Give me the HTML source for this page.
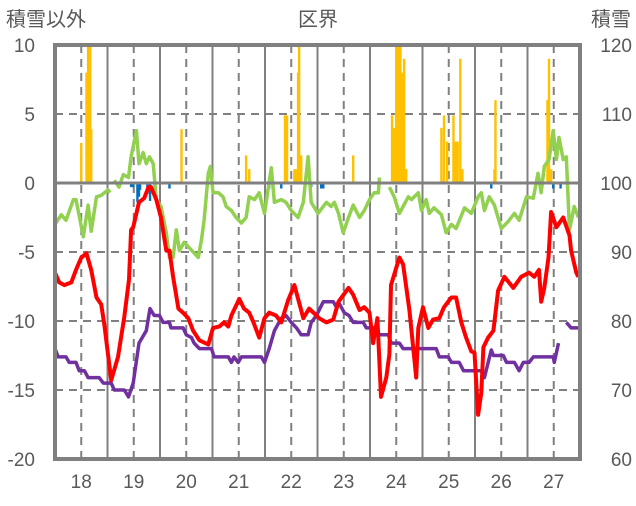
<!DOCTYPE html>
<html><head><meta charset="utf-8">
<style>
html,body{margin:0;padding:0;background:#fff;}
svg text{font-family:"Liberation Sans","Noto Sans CJK JP",sans-serif;fill:#595959;}
</style></head>
<body>
<svg id="chart" width="636" height="501" viewBox="0 0 636 501" xmlns="http://www.w3.org/2000/svg">
<g id="grid"></g>
<g id="bars"></g>
<g id="lines"></g>
<g id="axes"></g>
<text x="46" y="26" font-size="20" text-anchor="middle">積雪以外</text>
<text x="318" y="26" font-size="20" text-anchor="middle">区界</text>
<text x="611" y="26" font-size="20" text-anchor="middle">積雪</text>
</svg>
<script>
const xTicks=[18,19,20,21,22,23,24,25,26,27];
const yTicksLeft=[10,5,0,-5,-10,-15,-20];
const yTicksRight=[120,110,100,90,80,70,60];
const greenT=[17.50,17.62,17.71,17.85,17.90,18.04,18.13,18.19,18.29,18.38,18.51,18.55,null,18.63,18.72,18.80,18.90,18.95,19.05,19.10,19.18,19.24,19.30,19.37,19.43,19.52,19.62,19.68,19.75,19.81,19.87,19.96,20.06,20.23,20.29,20.34,20.42,20.46,20.51,20.61,20.70,20.76,20.86,20.95,21.05,21.14,21.20,21.30,21.39,21.49,21.62,21.68,21.81,21.90,22.00,22.13,22.23,22.32,22.38,22.51,22.67,22.76,22.82,22.90,22.99,23.09,23.18,23.30,23.39,23.49,23.58,23.66,23.68,null,23.87,23.96,24.06,24.13,24.23,24.29,24.42,24.48,24.57,24.63,24.72,24.86,24.95,25.05,25.14,25.30,25.43,25.56,25.62,25.68,25.77,25.87,26.00,26.13,26.25,26.34,26.48,26.61,26.70,26.76,26.82,26.91,26.99,27.05,27.10,27.18,27.24,27.30,27.39,27.47];
const greenV=[-3.0,-2.3,-2.7,-1.2,-1.2,-3.9,-1.6,-3.5,-1.0,-0.9,-0.5,-0.7,null,0.2,-0.3,0.6,0.4,1.9,3.8,1.4,2.2,1.4,1.9,1.4,-1.2,-1.7,-3.6,-5.4,-5.4,-3.4,-4.9,-4.3,-4.7,-5.4,-4.1,-2.7,0.7,1.2,-0.7,-0.7,-1.0,-1.7,-2.0,-2.5,-2.9,-2.5,-1.0,-1.2,-0.7,-2.2,1.1,-1.4,-1.2,-1.4,-2.0,-2.5,-1.4,1.9,-1.4,-2.2,-1.4,-1.7,-1.4,-2.2,-3.6,-2.5,-1.6,-2.5,-2.0,-1.2,-0.7,-0.7,0.4,null,-0.3,-1.0,-2.2,-1.7,-1.0,-1.2,-0.7,-2.0,-1.2,-2.2,-1.8,-2.3,-3.6,-3.0,-3.3,-1.8,-2.2,-1.0,-0.7,-2.0,-1.0,-1.6,-3.3,-2.8,-2.2,-2.7,-1.0,-1.1,0.7,-0.7,1.2,1.7,3.8,1.7,3.3,1.7,1.9,-3.4,-1.7,-2.5];
const redT=[17.50,17.58,17.68,17.81,17.90,18.00,18.10,18.19,18.29,18.38,18.44,18.57,18.70,18.82,18.91,18.95,18.99,19.10,19.20,19.28,19.33,19.43,19.52,19.62,19.68,19.75,19.85,19.94,20.04,20.13,20.25,20.42,20.51,20.63,20.72,20.80,20.86,21.01,21.10,21.20,21.28,21.39,21.49,21.58,21.71,21.81,21.94,22.06,22.23,22.34,22.48,22.53,22.67,22.80,22.90,23.09,23.18,23.30,23.39,23.49,23.56,23.64,23.71,23.81,23.87,23.90,24.06,24.13,24.25,24.38,24.42,24.51,24.61,24.70,24.82,24.91,25.05,25.14,25.24,25.33,25.43,25.49,25.56,25.62,25.66,25.75,25.85,25.94,26.06,26.23,26.38,26.53,26.63,26.72,26.76,26.82,26.90,26.95,27.05,27.18,27.30,27.33,27.43,27.47];
const redV=[-6.5,-7.2,-7.4,-7.2,-6.3,-5.4,-5.1,-6.3,-8.3,-8.8,-10.3,-14.3,-12.6,-9.7,-7.0,-3.4,-3.2,-1.4,-1.1,-0.3,-0.3,-1.2,-2.5,-4.9,-4.9,-6.8,-9.1,-9.4,-9.8,-10.7,-11.4,-11.7,-10.5,-10.4,-10.1,-10.4,-9.6,-8.4,-9.1,-9.4,-10.1,-11.2,-9.8,-9.4,-9.6,-10.1,-8.5,-7.4,-9.8,-9.1,-9.6,-9.8,-10.1,-9.9,-8.6,-7.6,-8.1,-9.2,-9.0,-9.4,-11.6,-9.8,-15.5,-14.1,-12.4,-7.4,-5.4,-5.9,-9.2,-14.1,-10.5,-9.0,-10.5,-9.9,-9.8,-9.0,-8.3,-8.3,-10.1,-11.2,-12.2,-12.3,-16.8,-15.2,-11.9,-11.2,-10.7,-7.8,-6.8,-7.6,-6.8,-6.5,-6.8,-6.3,-8.6,-7.6,-5.4,-2.1,-3.2,-2.5,-3.8,-4.9,-6.5,-6.8];
const purpleT=[17.50,17.56,17.71,17.77,17.90,17.96,18.06,18.13,18.34,18.42,18.57,18.63,18.82,18.90,18.99,19.10,19.24,19.31,19.39,19.49,19.56,19.68,19.71,19.94,20.00,20.10,20.15,20.25,20.48,20.53,20.80,20.86,20.91,20.99,21.05,21.43,21.49,21.58,21.68,21.81,21.90,22.00,22.10,22.19,22.32,22.38,22.48,22.61,22.80,22.86,22.91,23.01,23.10,23.18,23.37,23.43,23.62,23.68,23.85,23.90,24.06,24.13,24.76,24.82,24.99,25.05,25.20,25.28,25.62,25.68,25.81,25.85,26.04,26.10,26.25,26.34,26.42,26.53,26.61,26.99,27.01,27.09,null,27.24,27.33,27.47];
const purpleV=[-12.0,-12.6,-12.6,-13.0,-13.0,-13.6,-13.6,-14.1,-14.1,-14.5,-14.5,-15.0,-15.0,-15.5,-14.5,-11.6,-10.7,-9.1,-9.6,-9.6,-10.1,-10.1,-10.5,-10.5,-11.0,-11.2,-11.6,-12.0,-12.0,-12.6,-12.6,-13.0,-12.6,-13.0,-12.6,-12.6,-13.0,-12.0,-10.7,-9.8,-9.6,-10.1,-10.5,-11.0,-11.0,-10.1,-9.6,-8.6,-8.6,-9.0,-8.7,-9.4,-9.6,-10.1,-10.1,-10.5,-10.5,-11.0,-11.0,-11.6,-11.6,-12.0,-12.0,-12.6,-12.6,-13.0,-13.0,-13.6,-13.6,-14.1,-12.1,-12.5,-12.5,-13.0,-13.0,-13.6,-13.0,-13.0,-12.6,-12.6,-13.0,-11.6,null,-10.1,-10.5,-10.5];
const orangeT=[18.00,18.10,18.13,18.17,18.19,19.91,21.14,21.20,21.88,21.92,22.06,22.10,22.13,22.15,22.19,23.18,23.92,23.96,24.00,24.04,24.08,24.11,24.15,24.19,24.86,24.91,24.97,25.09,25.13,25.17,25.22,25.26,25.87,25.89,26.88,26.91,26.95];
const orangeV=[2.9,8,10,10,3.9,3.9,2.0,1.0,4.9,4.9,1.0,1.0,8,10,2.0,2.0,4.9,4.0,10,10,10,8,9,1.0,4.0,4.9,3.0,4.9,3.0,3.0,9,1.0,1.0,6,6,9,1.0];
const blueT=[18.95,18.99,19.07,19.10,19.12,19.26,19.31,19.68,21.58,21.81,22.38,22.57,22.61,25.81,26.99,27.13];
const blueV=[-0.3,-0.3,-1.4,-1.0,-0.5,-0.8,-1.3,-0.4,-0.4,-0.4,-0.3,-0.4,-0.4,-0.4,-0.4,-0.4];

const L=55,R=580,T=45,B=459,X0=17.5,X1=27.5,Y0=-20,Y1=10;
function xs(t){return L+(t-X0)/(X1-X0)*(R-L);}
function ys(v){return B-(v-Y0)/(Y1-Y0)*(B-T);}
const NS='http://www.w3.org/2000/svg';
function mk(tag,parent,attrs){const e=document.createElementNS(NS,tag);for(const k in attrs)e.setAttribute(k,attrs[k]);parent.appendChild(e);return e;}
const grid=document.getElementById('grid'),bars=document.getElementById('bars'),lines=document.getElementById('lines'),axes=document.getElementById('axes');
yTicksLeft.forEach((v,i)=>{
  if(v!==0&&v!==Y0&&v!==Y1){const g=mk('line',grid,{x1:L,x2:R,y1:ys(v),y2:ys(v),stroke:'#808080','stroke-width':2,'stroke-dasharray':'8,6'});
  
  }
  const t=mk('text',axes,{x:35,y:ys(v)+7,'font-size':19,'text-anchor':'end'});t.textContent=v;
  
  
  const r=mk('text',axes,{x:632,y:ys(v)+7,'font-size':19,'text-anchor':'end'});r.textContent=yTicksRight[i];
  
  
});
xTicks.forEach(t=>{
  const d=mk('line',grid,{x1:xs(t),x2:xs(t),y1:T,y2:B,stroke:'#808080','stroke-width':2,'stroke-dasharray':'8,6'});
  
  
  const s=mk('line',grid,{x1:xs(t+0.5),x2:xs(t+0.5),y1:T,y2:B,stroke:'#808080','stroke-width':2});
  
  
  const lb=mk('text',axes,{x:xs(t),y:488,'font-size':19,'text-anchor':'middle'});lb.textContent=t;
  
  
});
const zl=mk('line',axes,{x1:L,x2:R,y1:ys(0),y2:ys(0),stroke:'#808080','stroke-width':3});


function drawBars(ts,vs,color,name){ts.forEach((t,i)=>{const v=vs[i];const y=Math.min(ys(0),ys(v));const h=Math.abs(ys(v)-ys(0));
  const b=mk('rect',bars,{x:xs(t)-1.2,y:y,width:2.4,height:h,fill:color});
  
  });}
drawBars(orangeT,orangeV,'#FFC000','snow-bar');
drawBars(blueT,blueV,'#0070C0','negative-bar');
function drawLine(ts,vs,color,name){let d='',pen=false;ts.forEach((t,i)=>{if(t===null||vs[i]===null){pen=false;return;}d+=(pen?'L':'M')+xs(t).toFixed(1)+','+ys(vs[i]).toFixed(1);pen=true;});
  const p=mk('path',lines,{d:d,fill:'none',stroke:color,'stroke-width':name==='red-line'?4:3.5,'stroke-linejoin':'round'});
  
  }
drawLine(greenT,greenV,'#92D050','green-line');
drawLine(purpleT,purpleV,'#7030A0','purple-line');
drawLine(redT,redV,'#FF0000','red-line');
const fr=mk('rect',axes,{x:L,y:T,width:R-L,height:B-T,fill:'none',stroke:'#808080','stroke-width':4});


</script>
</body></html>
